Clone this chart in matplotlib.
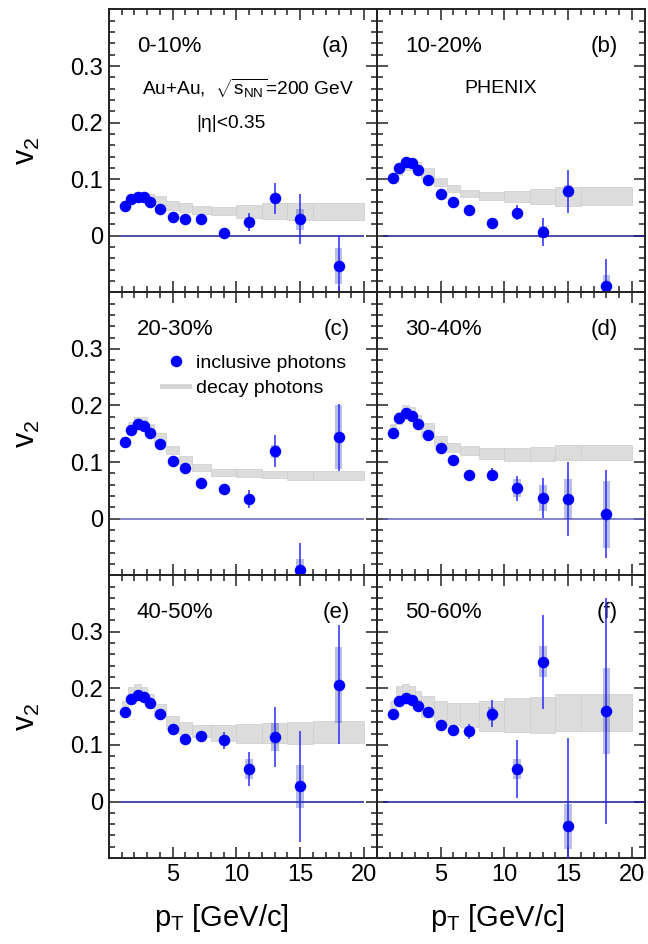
import numpy as np
import matplotlib
matplotlib.use("Agg")
import matplotlib.pyplot as plt
from matplotlib.lines import Line2D

plt.rcParams['font.family'] = ['Liberation Sans', 'DejaVu Sans']
plt.rcParams['mathtext.fontset'] = 'custom'
plt.rcParams['mathtext.rm'] = 'Liberation Sans'
plt.rcParams['mathtext.it'] = 'Liberation Sans'

# pT bin centres of the inclusive photon points
pt = [1.25, 1.75, 2.25, 2.75, 3.25, 4, 5, 6, 7.25, 9, 11, 13, 15, 18]
# decay photon bin edges
decay_edges = [1, 1.5, 2, 2.5, 3, 3.5, 4.5, 5.5, 6.5, 8, 10, 12, 14, 16, 20]

cent = ['0-10%', '10-20%', '20-30%', '30-40%', '40-50%', '50-60%']
tags = ['(a)', '(b)', '(c)', '(d)', '(e)', '(f)']

v2_a = [0.053, 0.065, 0.069, 0.068, 0.060, 0.048, 0.034, 0.029, 0.029, 0.005, 0.024, 0.066, 0.029, -0.054]
stat_a = [0.002] * 8 + [0.003, 0.004, 0.016, 0.028, 0.044, 0.055]
sys_a = [0.003] * 10 + [0.006, 0.007, 0.018, 0.032]
dec_a = [0.055, 0.064, 0.069, 0.069, 0.066, 0.0626, 0.054, 0.050, 0.046, 0.044, 0.043, 0.0435, 0.0435, 0.0435]
dech_a = [0.006, 0.007, 0.008, 0.008, 0.008, 0.008, 0.008, 0.0075, 0.007, 0.007, 0.012, 0.014, 0.015, 0.015]

v2_b = [0.102, 0.120, 0.130, 0.128, 0.117, 0.099, 0.074, 0.059, 0.046, 0.023, 0.041, 0.0065, 0.079, -0.089]
stat_b = [0.002] * 8 + [0.003, 0.004, 0.014, 0.024, 0.038, 0.048]
sys_b = [0.003] * 10 + [0.005, 0.010, 0.010, 0.020]
dec_b = [0.100, 0.115, 0.125, 0.126, 0.119, 0.111, 0.095, 0.084, 0.075, 0.070, 0.069, 0.069, 0.069, 0.0695]
dech_b = [0.007, 0.008, 0.008, 0.009, 0.011, 0.009, 0.007, 0.006, 0.006, 0.007, 0.010, 0.013, 0.017, 0.016]

v2_c = [0.135, 0.157, 0.167, 0.164, 0.152, 0.132, 0.102, 0.089, 0.0635, 0.052, 0.034, 0.119, -0.0905, 0.144]
stat_c = [0.002] * 8 + [0.004, 0.005, 0.016, 0.028, 0.048, 0.059]
sys_c = [0.003] * 10 + [0.006, 0.012, 0.020, 0.057]
dec_c = [0.138, 0.162, 0.171, 0.170, 0.156, 0.144, 0.121, 0.103, 0.091, 0.082, 0.080, 0.078, 0.077, 0.077]
dech_c = [0.007, 0.008, 0.008, 0.009, 0.011, 0.008, 0.007, 0.007, 0.006, 0.006, 0.007, 0.007, 0.008, 0.008]

v2_d = [0.152, 0.177, 0.186, 0.182, 0.168, 0.147, 0.125, 0.104, 0.0764, 0.078, 0.0535, 0.036, 0.035, 0.0076]
stat_d = [0.002] * 8 + [0.004, 0.011, 0.0215, 0.035, 0.065, 0.078]
sys_d = [0.003] * 9 + [0.006, 0.016, 0.023, 0.035, 0.059]
dec_d = [0.158, 0.178, 0.190, 0.186, 0.172, 0.157, 0.137, 0.1255, 0.120, 0.115, 0.113, 0.1145, 0.117, 0.117]
dech_d = [0.010, 0.010, 0.011, 0.011, 0.011, 0.012, 0.009, 0.008, 0.008, 0.009, 0.011, 0.012, 0.013, 0.013]

v2_e = [0.158, 0.182, 0.189, 0.185, 0.174, 0.155, 0.129, 0.1105, 0.116, 0.108, 0.0576, 0.1146, 0.027, 0.2063]
stat_e = [0.002] * 8 + [0.006, 0.015, 0.030, 0.053, 0.098, 0.105]
sys_e = [0.003] * 8 + [0.004, 0.008, 0.018, 0.025, 0.038, 0.067]
dec_e = [0.166, 0.190, 0.195, 0.190, 0.178, 0.161, 0.140, 0.130, 0.1245, 0.121, 0.120, 0.121, 0.121, 0.123]
dech_e = [0.012, 0.012, 0.012, 0.012, 0.012, 0.012, 0.012, 0.010, 0.011, 0.014, 0.017, 0.018, 0.019, 0.020]

v2_f = [0.1546, 0.177, 0.183, 0.179, 0.169, 0.158, 0.136, 0.126, 0.124, 0.155, 0.0576, 0.247, -0.044, 0.160]
stat_f = [0.002] * 6 + [0.004, 0.007, 0.013, 0.024, 0.052, 0.083, 0.157, 0.200]
sys_f = [0.003] * 6 + [0.004, 0.006, 0.006, 0.012, 0.018, 0.027, 0.040, 0.076]
dec_f = [0.165, 0.190, 0.192, 0.188, 0.180, 0.168, 0.159, 0.1545, 0.153, 0.1515, 0.1525, 0.1535, 0.157, 0.157]
dech_f = [0.012, 0.015, 0.016, 0.016, 0.016, 0.019, 0.019, 0.020, 0.022, 0.026, 0.030, 0.032, 0.033, 0.033]

panels = [
    (v2_a, stat_a, sys_a, dec_a, dech_a),
    (v2_b, stat_b, sys_b, dec_b, dech_b),
    (v2_c, stat_c, sys_c, dec_c, dech_c),
    (v2_d, stat_d, sys_d, dec_d, dech_d),
    (v2_e, stat_e, sys_e, dec_e, dech_e),
    (v2_f, stat_f, sys_f, dec_f, dech_f),
]

edges = np.array(decay_edges)
dcen = (edges[:-1] + edges[1:]) / 2
dwid = np.diff(edges)

fig, axes = plt.subplots(3, 2, figsize=(6.48, 9.44), dpi=100, sharex=True, sharey=True)
fig.subplots_adjust(left=0.168, right=0.995, top=0.990, bottom=0.091, wspace=0, hspace=0)

zero_col = ['#1a1a90', '#1a1a90', '#6060b8', '#6060b8', '#1a1a90', '#1a1a90']

for i, ax in enumerate(axes.flat):
    v2, stat, sys, dec, dech = [np.array(a) for a in panels[i]]
    ax.bar(dcen, 2 * dech, bottom=dec - dech, width=dwid, color='#dcdcdc',
           edgecolor='#cdcdcd', linewidth=0.5, zorder=1)
    if i % 2 == 0:
        ax.hlines(0, 0.9, 20, color=zero_col[i], lw=1.1, zorder=2)
    else:
        ax.hlines(0, 0.5, 21, color=zero_col[i], lw=1.1, zorder=2)
    ax.bar(pt, 2 * sys, bottom=v2 - sys, width=0.6, color='#3040b0', alpha=0.33,
           linewidth=0, zorder=3)
    ax.errorbar(pt, v2, yerr=stat, fmt='o', ms=8.3, mew=0, color='#0000ff',
                ecolor='#2a2aff', elinewidth=1.1, capsize=2.6, capthick=1.1, zorder=4)

    ax.set_xlim(0, 21)
    ax.set_ylim(-0.1, 0.4)
    ax.set_xticks([5, 10, 15, 20])
    ax.set_xticks(np.arange(0, 21, 1), minor=True)
    ax.set_yticks([0, 0.1, 0.2, 0.3])
    ax.set_yticklabels(['0', '0.1', '0.2', '0.3'])
    ax.set_yticks(np.arange(-0.1, 0.4001, 0.02), minor=True)
    ax.tick_params(which='both', direction='in', top=True, right=True,
                   labelsize=17, width=1.1, color='#222222', pad=4)
    ax.tick_params(which='major', length=8)
    ax.tick_params(which='minor', length=4)
    for s in ax.spines.values():
        s.set_linewidth(1.4)
        s.set_color('#222222')

    ax.text(0.105, 0.868, cent[i], transform=ax.transAxes, fontsize=16, va='center')
    ax.text(0.898, 0.868, tags[i], transform=ax.transAxes, fontsize=16, va='center', ha='right')

    if i % 2 == 0:
        ax.set_ylabel(r'$\mathregular{v_{2}}$', fontsize=22)
        ax.yaxis.set_label_coords(-0.25, 0.5)
    if i >= 4:
        ax.set_xlabel(r'$\mathregular{p_{T}}$ [GeV/c]', fontsize=21)
        ax.xaxis.set_label_coords(0.42 if i == 4 else 0.45, -0.155)

axes[0, 0].text(0.122, 0.72, r'Au+Au,  $\sqrt{s_{\mathregular{NN}}}$=200 GeV',
                transform=axes[0, 0].transAxes, fontsize=13.8, va='center')
axes[0, 0].text(0.325, 0.597, '|η|<0.35', transform=axes[0, 0].transAxes,
                fontsize=13.8, va='center')
axes[0, 1].text(0.327, 0.72, 'PHENIX', transform=axes[0, 1].transAxes,
                fontsize=14, va='center')

handles = [Line2D([], [], marker='o', ls='none', color='#0000ff', ms=8.3, mew=0),
           Line2D([], [], color='#d4d4d4', lw=3.5)]
axes[1, 0].legend(handles, ['inclusive photons', 'decay photons'], loc='upper left',
                  bbox_to_anchor=(0.2, 0.78), frameon=False, fontsize=14,
                  handlelength=1.35, handletextpad=0.4, labelspacing=0.35,
                  borderpad=0, borderaxespad=0)

fig.savefig('out.png', dpi=100)
